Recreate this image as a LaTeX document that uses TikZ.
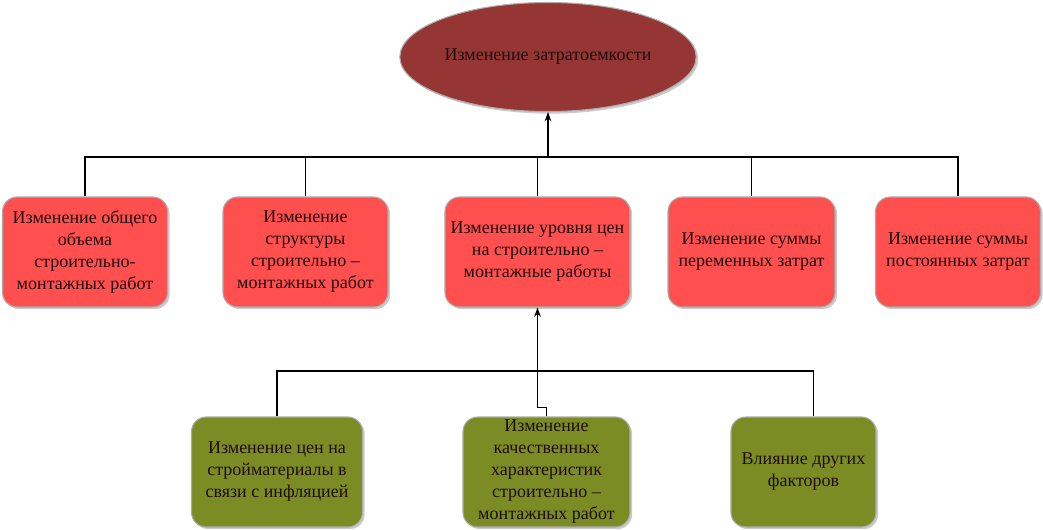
\documentclass[tikz,border=0pt]{standalone}
\usepackage{fontspec}
\setmainfont{Liberation Serif}
\usetikzlibrary{shadows,arrows.meta,calc,shapes.geometric}
\newcommand\pxu{0.75pt}
\definecolor{boxred}{RGB}{255,79,79}
\definecolor{ellred}{RGB}{149,54,52}
\definecolor{boxgreen}{RGB}{124,140,36}
\definecolor{txtdark}{RGB}{30,12,12}
\begin{document}
\begin{tikzpicture}[x=0.75pt,y=-0.75pt,
  base/.style={draw=gray!65, line width=0.8pt, text=txtdark, align=center,
    font=\fontsize{13.5}{16.5}\selectfont, inner sep=1pt,
    drop shadow={shadow xshift=1.6pt, shadow yshift=-1.6pt, fill=black!40}},
  redbox/.style={base, fill=boxred, rounded corners=11pt, minimum height=110*\pxu},
  greenbox/.style={base, fill=boxgreen, rounded corners=11pt, minimum height=110*\pxu},
  topell/.style={base, ellipse, fill=ellred, minimum width=280*\pxu, minimum height=109*\pxu},
  conn/.style={draw=black, line width=1.1pt},
  arr/.style={conn, -{Stealth[length=7pt,width=5pt]}}
]
\fill[white] (0,0) rectangle (1043,529);
\useasboundingbox (0,0) rectangle (1043,529);

\node[topell] (ell) at (548,57) {Изменение затратоемкости};

\node[redbox, minimum width=165*\pxu] (r1) at (85,252) {Изменение общего\\объема\\строительно-\\монтажных работ};
\node[redbox, minimum width=165*\pxu] (r2) at (305.5,252) {Изменение\\структуры\\строительно –\\монтажных работ};
\node[redbox, minimum width=185*\pxu] (r3) at (537.5,252) {Изменение уровня цен\\на строительно –\\монтажные работы};
\node[redbox, minimum width=167*\pxu] (r4) at (751.5,252) {Изменение суммы\\переменных затрат};
\node[redbox, minimum width=165*\pxu] (r5) at (958,252) {Изменение суммы\\постоянных затрат};

\node[greenbox, minimum width=171*\pxu] (g1) at (277,472) {Изменение цен на\\стройматериалы в\\связи с инфляцией};
\node[greenbox, minimum width=167*\pxu] (g2) at (546.5,472) {Изменение\\качественных\\характеристик\\строительно –\\монтажных работ};
\node[greenbox, minimum width=145*\pxu] (g3) at (803.5,472) {Влияние других\\факторов};

\coordinate (busT) at (0,157);
\coordinate (busL) at (0,371);
\coordinate (g3n) at ($(g3.north)+(10,0)$);

% top bus
\draw[conn] (r1.north) -- (r1.north |- busT) -- (r5.north |- busT) -- (r5.north);
\draw[conn] (r2.north) -- (r2.north |- busT);
\draw[conn] (r3.north) -- (r3.north |- busT);
\draw[conn] (r4.north) -- (r4.north |- busT);
\draw[arr] (ell.south |- busT) -- (ell.south);

% lower bus
\draw[conn] (g1.north) -- (g1.north |- busL) -- (g3n |- busL) -- (g3n);
\draw[arr] (g2.north) -- ++(0,-9) -| (r3.south);
\end{tikzpicture}
\end{document}
